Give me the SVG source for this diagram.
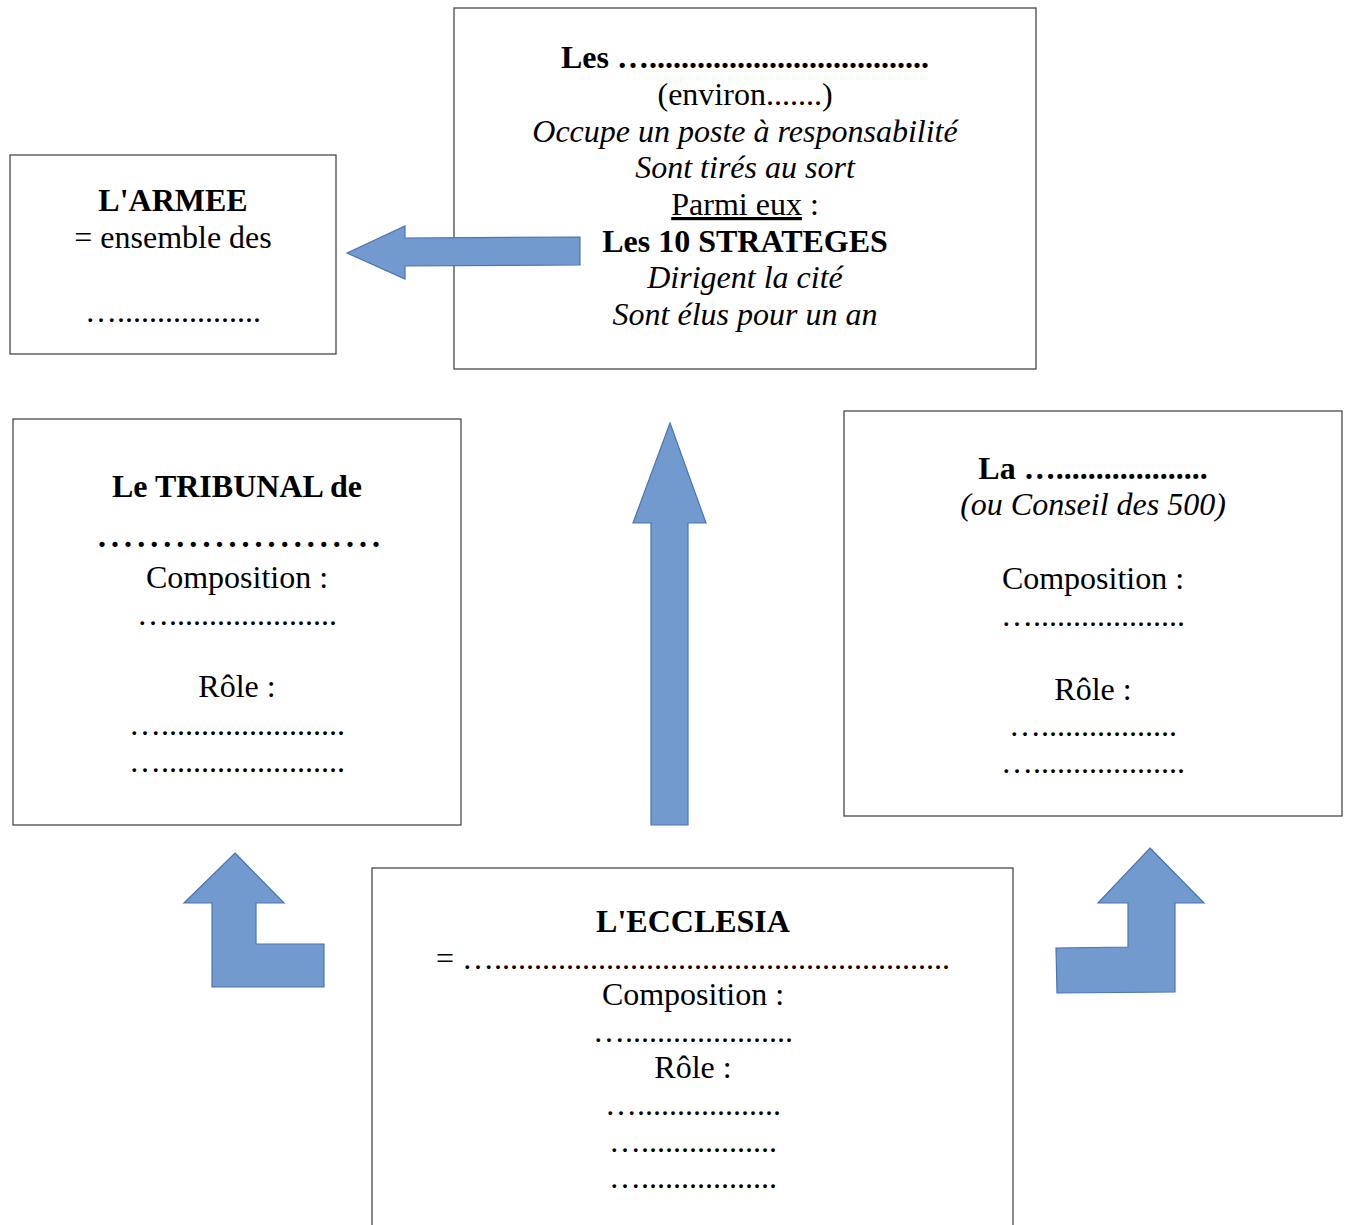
<svg xmlns="http://www.w3.org/2000/svg" width="1349" height="1225" viewBox="0 0 1349 1225">
<style>
.box{fill:#fff;stroke:#3a3a3a;stroke-width:1.2}
text{font-family:"Liberation Serif","Times New Roman",serif;font-size:32px;fill:#000;text-anchor:middle}
.b{font-weight:bold}
.i{font-style:italic}
.arr{fill:#729acf;stroke:#4a74b2;stroke-width:1.2;stroke-linejoin:miter}
</style>
<rect width="1349" height="1225" fill="#fff"/>
<g id="strateges">
<rect class="box" x="454" y="8" width="582" height="361"/>
<text x="745" y="68" class="b">Les …...................................</text>
<text x="745" y="105">(environ.......)</text>
<text x="745" y="142" class="i">Occupe un poste à responsabilité</text>
<text x="745" y="178" class="i">Sont tirés au sort</text>
<text x="745" y="215"><tspan text-decoration="underline">Parmi eux</tspan> :</text>
<text x="745" y="252" class="b">Les 10 STRATEGES</text>
<text x="745" y="288" class="i">Dirigent la cité</text>
<text x="745" y="325" class="i">Sont élus pour un an</text>
</g>
<g id="armee">
<rect class="box" x="10" y="155" width="326" height="199"/>
<text x="173" y="211" class="b">L'ARMEE</text>
<text x="173" y="248">= ensemble des</text>
<text x="173" y="322">…..................</text>
</g>
<g id="tribunal">
<rect class="box" x="13" y="419" width="448" height="406"/>
<text x="237" y="497" class="b">Le TRIBUNAL de</text>
<text x="239" y="547" class="b" textLength="282" lengthAdjust="spacing">......................</text>
<text x="237" y="588">Composition :</text>
<text x="237" y="625">….....................</text>
<text x="237" y="697">Rôle :</text>
<text x="237" y="735">….......................</text>
<text x="237" y="772">….......................</text>
</g>
<g id="boule">
<rect class="box" x="844" y="411" width="498" height="405"/>
<text x="1093" y="479" class="b">La …...................</text>
<text x="1093" y="515" class="i">(ou Conseil des 500)</text>
<text x="1093" y="589">Composition :</text>
<text x="1093" y="626">…...................</text>
<text x="1093" y="700">Rôle :</text>
<text x="1093" y="736">….................</text>
<text x="1093" y="773">…...................</text>
</g>
<g id="ecclesia">
<rect class="box" x="372" y="868" width="641" height="380"/>
<text x="693" y="932" class="b">L'ECCLESIA</text>
<text x="693" y="969">= ….........................................................</text>
<text x="693" y="1005">Composition :</text>
<text x="693" y="1042">….....................</text>
<text x="693" y="1078">Rôle :</text>
<text x="693" y="1115">…..................</text>
<text x="693" y="1152">….................</text>
<text x="693" y="1188">….................</text>
</g>
<g id="connectors">
<polygon class="arr" points="347,253 405,226 405,238 580,237 580,265 405,266 405,279"/>
<polygon class="arr" points="670,423 706,523 688,523 688,825 651,825 651,523 633,523"/>
<polygon class="arr" points="235,853 284,903 256,903 256,944 324,944 324,987 212,987 212,903 184,903"/>
<polygon class="arr" points="1150,848 1204,903 1175,903 1175,992 1057,993 1056,948 1128,947 1128,903 1098,903"/>
</g>
</svg>
